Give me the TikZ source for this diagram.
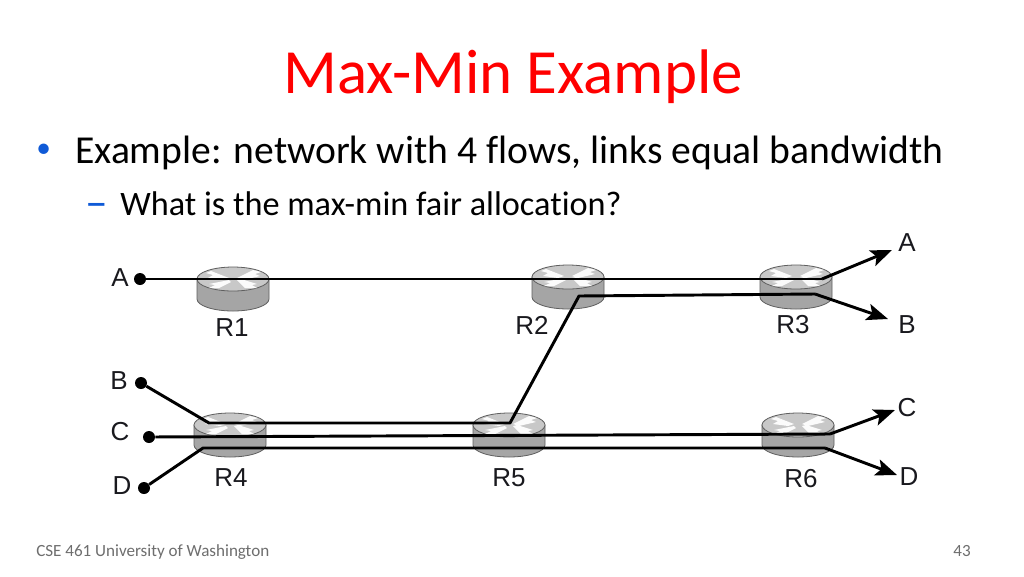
\documentclass[tikz,border=0pt]{standalone}
\usepackage{fontspec}
\setmainfont[Ligatures=NoCommon]{Carlito}
\newfontfamily\labelfont{Liberation Sans}
\usetikzlibrary{arrows.meta}
\definecolor{titlered}{RGB}{255,0,0}
\definecolor{bulletblue}{RGB}{15,90,215}
\definecolor{footgray}{RGB}{110,110,110}
\definecolor{inkdark}{RGB}{25,25,30}
\definecolor{routerside}{RGB}{165,165,165}
\definecolor{routertop}{RGB}{200,200,200}
\definecolor{routeredge}{RGB}{95,95,95}
\tikzset{
  slidetext/.style={inner sep=0pt,anchor=base west,text=black},
  netlabel/.style={inner sep=0pt,anchor=center,text=inkdark,font=\labelfont\fontsize{19.5}{20}\selectfont},
  enddot/.style={circle,fill=black,inner sep=0pt,minimum size=9pt},
  flow/.style={line width=2.2pt,black,line join=round},
  flowarrow/.style={line width=2.2pt,black,-{Stealth[length=16pt,width=12.5pt,inset=3.5pt]}},
}
% router: #1 name, #2 x, #3 y of the top disc centre
\newcommand{\netrouter}[3]{%
  \coordinate (#1) at (#2,#3);
  \begin{scope}[shift={(#2,#3)}]
    \path[fill=routerside,draw=routeredge,line width=0.6pt]
      (-36,0) -- (-36,20) .. controls (-36,26.6) and (-20,32) .. (0,32)
      .. controls (20,32) and (36,26.6) .. (36,20) -- (36,0) -- cycle;
    \path[fill=routertop,draw=routeredge,line width=0.6pt] (0,0) ellipse[x radius=36,y radius=12];
    \fill[white!92!routertop] (-4,-1) -- (-22,-8) -- (-27,-6) -- (-20,-4) -- (-25,-1) -- (-10,1) -- cycle;
    \fill[white!92!routertop] (4,-1) -- (20,-9) -- (28,-7) -- (22,-5) -- (27,-3) -- (10,1) -- cycle;
    \fill[white!92!routertop] (-4,1) -- (-24,5) -- (-18,6) -- (-24,9) -- (-14,9) -- (-2,3) -- cycle;
    \fill[white!92!routertop] (4,1) -- (12,9) -- (24,9) -- (19,6) -- (24,5) -- (8,0) -- cycle;
  \end{scope}}
\begin{document}
\begin{tikzpicture}[x=0.75pt,y=-0.75pt]
\useasboundingbox (0,0) rectangle (1024,576);
\fill[white] (0,0) rectangle (1024,576);

\node[slidetext,text=titlered,font=\fontsize{47.2}{50}\selectfont] (title) at (283,93) {Max-Min Example};
\node[slidetext,text=bulletblue,font=\fontsize{22}{24}\selectfont] (bul) at (36,157) {•};
\node[slidetext,font=\fontsize{29.7}{32}\selectfont] (line1) at (75,163) {Example: network with 4 flows, links equal bandwidth};
\node[slidetext,text=bulletblue,font=\fontsize{34}{36}\selectfont] (dash) at (85,217) {–};
\node[slidetext,font=\fontsize{25.7}{28}\selectfont] (line2) at (120,215) {What is the max-min fair allocation?};
\node[slidetext,text=footgray,font=\fontsize{12.8}{14}\selectfont] (foot) at (36,556) {CSE 461 University of Washington};
\node[inner sep=0pt,anchor=base east,text=footgray,font=\fontsize{12.8}{14}\selectfont] (page) at (971,556) {43};

\netrouter{R1}{233}{279}
\netrouter{R2}{568}{277}
\netrouter{R3}{796}{277}
\netrouter{R4}{230}{425}
\netrouter{R5}{509}{425}
\netrouter{R6}{798}{425}

\node[netlabel] (lR1) at (232,328) {R1};
\node[netlabel] (lR2) at (532,325) {R2};
\node[netlabel] (lR3) at (793,325) {R3};
\node[netlabel] (lR4) at (231,478) {R4};
\node[netlabel] (lR5) at (509,478) {R5};
\node[netlabel] (lR6) at (801,479) {R6};

\node[netlabel] (lAin) at (120,278) {A};
\node[netlabel] (lBin) at (119,381) {B};
\node[netlabel] (lCin) at (120,432) {C};
\node[netlabel] (lDin) at (122,486) {D};
\node[netlabel] (lAout) at (907,243) {A};
\node[netlabel] (lBout) at (907,325) {B};
\node[netlabel] (lCout) at (907,408) {C};
\node[netlabel] (lDout) at (909,477) {D};

\node[enddot] (Ain) at (140,279) {};
\node[enddot] (Bin) at (141,383) {};
\node[enddot] (Cin) at (149,437) {};
\node[enddot] (Din) at (144,488) {};

\coordinate (Aturn) at (822,279);
\coordinate (Atip) at (892,250);
\coordinate (B1) at (209,423);
\coordinate (B2) at (510,423);
\coordinate (B3) at (579,296);
\coordinate (B4) at (815,294);
\coordinate (Btip) at (888,319);
\coordinate (Cturn) at (830,434);
\coordinate (Ctip) at (895,410);
\coordinate (D1) at (203,448);
\coordinate (D2) at (825,448);
\coordinate (Dtip) at (897,475);

\draw[flow] (Ain) -- (Aturn);
\draw[flowarrow] (Aturn) -- (Atip);
\draw[flow] (Bin) -- (B1) -- (B2) -- (B3) -- (B4);
\draw[flowarrow] (B4) -- (Btip);
\draw[flow] (Cin) -- (Cturn);
\draw[flowarrow] (Cturn) -- (Ctip);
\draw[flow] (Din) -- (D1) -- (D2);
\draw[flowarrow] (D2) -- (Dtip);
\end{tikzpicture}
\end{document}
